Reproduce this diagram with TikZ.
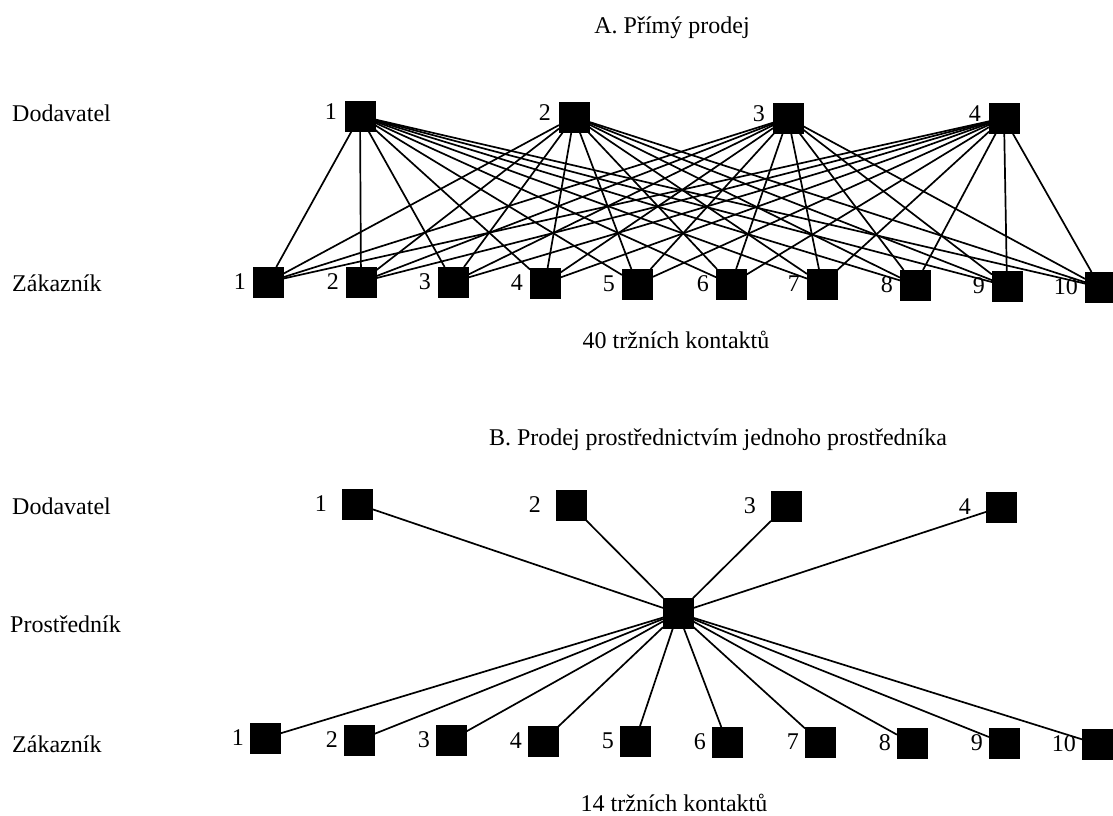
\documentclass[tikz,border=0pt]{standalone}
\usepackage{fontspec}
\setmainfont{Liberation Serif}
\begin{document}
\begin{tikzpicture}[x=1pt,y=-1pt,
  box/.style={fill=black,draw=black,minimum size=30pt,inner sep=0pt,outer sep=0pt},
  txt/.style={font=\fontsize{24}{28}\selectfont,inner sep=0pt},
  num/.style={txt,anchor=east},
  rowlbl/.style={txt,anchor=west},
  conn/.style={line width=1.7pt,black}]
\useasboundingbox (0,0) rectangle (1113,816);

% ---------- A ----------
\node[txt] (titleA) at (672,28) {A. Přímý prodej};
\node[rowlbl] (dodA) at (12,113) {Dodavatel};
\node[rowlbl] (zakA) at (12,283) {Zákazník};

\foreach \n/\x/\y in {1/360/116,2/574/117,3/788/118,4/1004/118}{
  \node[box] (sA\n) at (\x,\y) {};
  \node[num] (lsA\n) at ([xshift=-8pt,yshift=4pt]sA\n.west) {\n};
}

\foreach \n/\x/\y in {1/268/282,2/361/282,3/453/282,4/545/283,5/637/284,
                      6/731/284,7/822/284,8/915/285,9/1007/286,10/1100/287}{
  \node[box] (cA\n) at (\x,\y) {};
  \node[num] (lcA\n) at ([xshift=-7pt]cA\n.west) {\n};
}

\foreach \i in {1,...,4}
  \foreach \j in {1,...,10}
    \draw[conn] (sA\i) -- (cA\j);

\node[txt] (sumA) at (676,340) {40 tržních kontaktů};

% ---------- B ----------
\node[txt] (titleB) at (718,440) {B. Prodej prostřednictvím jednoho prostředníka};
\node[rowlbl] (dodB) at (12,506) {Dodavatel};
\node[rowlbl] (proB) at (10,624) {Prostředník};
\node[rowlbl] (zakB) at (12,744) {Zákazník};

\foreach \n/\x/\y in {1/357/504,2/571/505,3/786/506,4/1001/507}{
  \node[box] (sB\n) at (\x,\y) {};
  \node[num] (lsB\n) at ([xshift=-15pt]sB\n.west) {\n};
}

\node[box] (m) at (678,613) {};

\foreach \n/\x/\y in {1/265/738,2/359/740,3/451/740,4/543/741,5/635/741,
                      6/727/742,7/820/742,8/912/743,9/1004/743,10/1097/744}{
  \node[box] (cB\n) at (\x,\y) {};
  \node[num] (lcB\n) at ([xshift=-6pt]cB\n.west) {\n};
}

\foreach \i in {1,...,4}
  \draw[conn] (sB\i) -- (m);
\foreach \j in {1,...,10}
  \draw[conn] (m) -- (cB\j);

\node[txt] (sumB) at (674,803) {14 tržních kontaktů};
\end{tikzpicture}
\end{document}
